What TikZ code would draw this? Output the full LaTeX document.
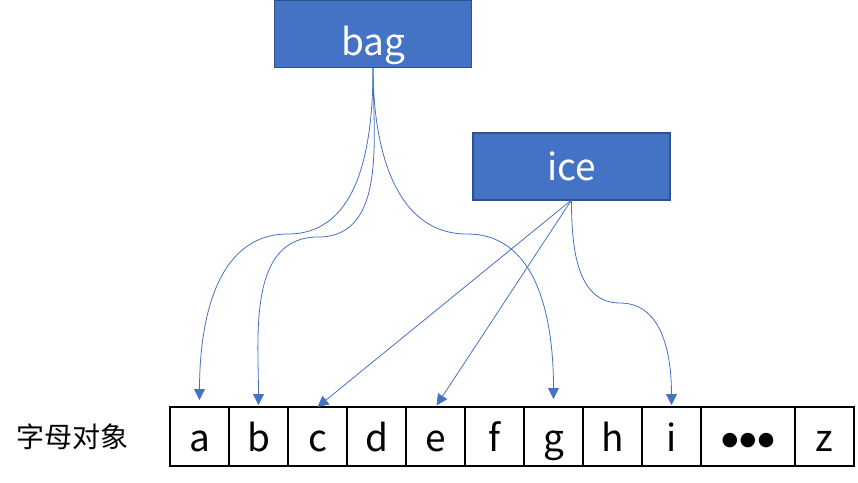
\documentclass[tikz,border=0pt]{standalone}
\usepackage{fontspec}
\setmainfont{Noto Sans CJK SC}
\newfontfamily\dotfont{DejaVu Sans}
\usetikzlibrary{positioning}
\usetikzlibrary{arrows.meta}

\definecolor{boxblue}{HTML}{4472C4}
\definecolor{boxedge}{HTML}{2F528F}

\tikzset{
    wordbox/.style={draw=boxedge,line width=1.2pt,fill=boxblue,text=white,
        minimum width=197pt,minimum height=67pt,inner sep=0pt,outer sep=0pt,
        text depth=1pt,font=\fontsize{37}{40}\selectfont},
    cell/.style={draw=black,line width=1.6pt,minimum width=59pt,minimum height=59pt,
        inner sep=0pt,outer sep=0pt,text height=30pt,text depth=1pt,
        font=\fontsize{37}{40}\selectfont},
    link/.style={draw=boxblue,line width=0.8pt,-{Triangle[width=11pt,length=11pt]}}
}

\begin{document}
\begin{tikzpicture}[x=1pt,y=1pt]
                \useasboundingbox (0,0) rectangle (858,-482);

                \node[wordbox,text height=44pt] (bag) at (373,-34) {bag};
                \node[wordbox,text height=28pt] (ice) at (571.5,-166.5) {ice};

                \node[cell] (a) at (199.5,-436.5) {a};
                \foreach \c [remember=\c as \prev (initially a)] in {b,c,d,e,f,g,h,i}
                    \node[cell,right=0pt of \prev] (\c) {\c};
                \node[cell,minimum width=94pt,right=0pt of i,text height=18pt]
                    (dots) {\dotfont\fontsize{19}{22}\selectfont ●\hspace{1.5pt}●\hspace{1.5pt}●};
                \node[cell,right=0pt of dots] (z) {z};

                \node[left=38pt of a,font=\fontsize{28}{30}\selectfont] (letters) {字母对象};

                \coordinate (ba) at (288,-234);
                \coordinate (bb) at (318,-237);
                \coordinate (bg) at (467,-234);
                \coordinate (ii) at (620,-303);

                \draw[link,shorten >=7pt] (bag.south) to[out=-90,in=0] (ba) to[out=180,in=90] (a.north);
                \draw[link,shorten >=2pt] (bag.south) to[out=-90,in=0] (bb) to[out=180,in=90] (b.north);
                \draw[link,shorten >=8pt] (bag.south) to[out=-90,in=180] (bg) to[out=0,in=90] (g.north);

                \draw[link] (ice.south) -- (c.north);
                \draw[link,shorten >=2pt] (ice.south) -- (e.north);
                \draw[link,shorten >=2pt] (ice.south) to[out=-90,in=180] (ii) to[out=0,in=90] (i.north);
            \end{tikzpicture}
\end{document}
